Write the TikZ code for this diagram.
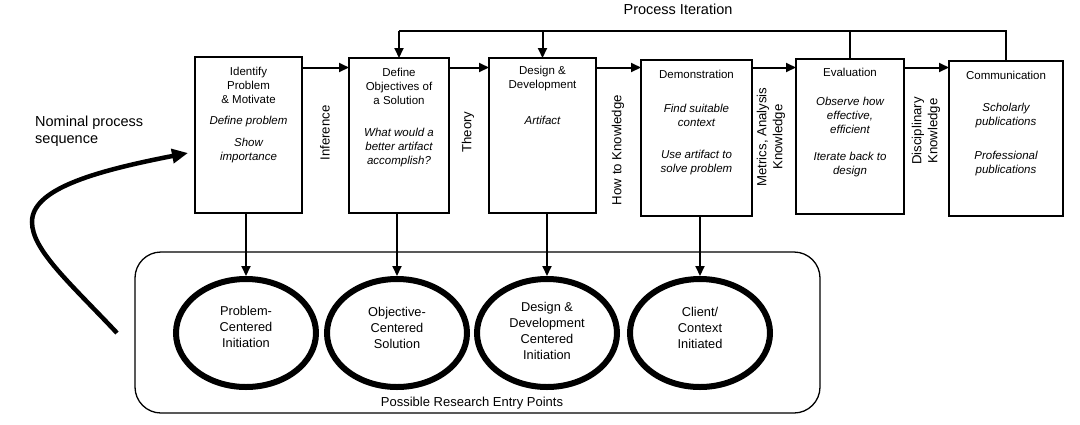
\documentclass[tikz,border=0pt]{standalone}
\usepackage{fontspec}
\setmainfont{Liberation Sans}
\usetikzlibrary{arrows.meta,shapes.geometric}
\begin{document}
\begin{tikzpicture}[x=1pt,y=-1pt,
  box/.style={draw, line width=1.3pt, inner sep=0pt, outer sep=0pt},
  ttl/.style={font=\fontsize{11.5}{14}\selectfont, align=center, inner sep=0pt},
  itl/.style={font=\fontsize{11.5}{14}\selectfont\itshape, align=center, inner sep=0pt},
  side/.style={font=\fontsize{13.2}{16}\selectfont, align=center, rotate=90, inner sep=0pt},
  arr/.style={line width=2pt, -{Triangle[length=10pt,width=9pt]}},
  link/.style={line width=2pt},
  ent/.style={draw, ellipse, line width=6pt, minimum width=140pt, minimum height=108pt, outer sep=3pt, inner sep=0pt},
  etxt/.style={font=\fontsize{12.8}{16}\selectfont, align=center, inner sep=0pt},
  big/.style={font=\fontsize{14.5}{17}\selectfont, inner sep=0pt}
]
\useasboundingbox (0,0) rectangle (1080,424);

% boxes
\node[box, minimum width=107pt, minimum height=156pt] (b1) at (248.5,135) {};
\node[box, minimum width=100pt, minimum height=155pt] (b2) at (399,135.5) {};
\node[box, minimum width=107pt, minimum height=155pt] (b3) at (542.5,135.5) {};
\node[box, minimum width=111pt, minimum height=156pt] (b4) at (696.5,138) {};
\node[box, minimum width=108pt, minimum height=155pt] (b5) at (850,136.5) {};
\node[box, minimum width=114pt, minimum height=155pt] (b6) at (1006,138.5) {};

% box texts
\node[ttl] (b1t) at (248.5,85.5) {Identify\\Problem\\\& Motivate};
\node[itl] (b1a) at (248.5,122) {Define problem};
\node[itl] (b1b) at (248.5,151) {Show\\importance};

\node[ttl] (b2t) at (399,86) {Define\\Objectives of\\a Solution};
\node[itl] (b2a) at (399,148) {What would a\\better artifact\\accomplish?};

\node[ttl] (b3t) at (542.5,79) {Design \&\\Development};
\node[itl] (b3a) at (542.5,120) {Artifact};

\node[ttl] (b4t) at (696.5,74) {Demonstration};
\node[itl] (b4a) at (696.5,115.5) {Find suitable\\context};
\node[itl] (b4b) at (696.5,163) {Use artifact to\\solve problem};

\node[ttl] (b5t) at (850,72) {Evaluation};
\node[itl] (b5a) at (850,115) {Observe how\\effective,\\efficient};
\node[itl] (b5b) at (850,165) {Iterate back to\\design};

\node[ttl] (b6t) at (1006,75) {Communication};
\node[itl] (b6a) at (1006,115.5) {Scholarly\\publications};
\node[itl] (b6b) at (1006,164) {Professional\\publications};

% side labels
\node[side] (l1) at (325,133) {Inference};
\node[side] (l2) at (468,132) {Theory};
\node[side] (l3) at (618,150) {How to Knowledge};
\node[side] (l4) at (771,137) {Metrics, Analysis\\Knowledge};
\node[side] (l5) at (926,131) {Disciplinary\\Knowledge};

% sequence arrows
\coordinate (row) at (0,67.5);
\draw[arr] (b1.east |- row) -- (b2.west |- row);
\draw[arr] (b2.east |- row) -- (b3.west |- row);
\draw[arr] (b3.east |- row) -- (b4.west |- row);
\draw[arr] (b4.east |- row) -- (b5.west |- row);
\draw[arr] (b5.east |- row) -- (b6.west |- row);

% iteration
\node[big] (pi) at (678,9) {Process Iteration};
\coordinate (it) at (0,31);
\draw[link, line join=miter] (b6.north) -- (b6.north |- it) -- (b2.north |- it);
\draw[link] (b5.north) -- (b5.north |- it);
\draw[arr] (b2.north |- it) -- (b2.north);
\draw[arr] (b3.north |- it) -- (b3.north);

% entry zone
\node[draw, line width=1.3pt, rounded corners=26pt, minimum width=685pt, minimum height=161pt, inner sep=0pt] (zone) at (477.5,332.5) {};
\node[font=\fontsize{13}{16}\selectfont, inner sep=0pt] (pre) at (472,403) {Possible Research Entry Points};

\node[ent] (e1) at (246,333) {};
\node[ent] (e2) at (397,333) {};
\node[ent] (e3) at (547,333) {};
\node[ent] (e4) at (700,333) {};
\node[etxt] (t1) at (246,327) {Problem-\\Centered\\Initiation};
\node[etxt] (t2) at (397,327.5) {Objective-\\Centered\\Solution};
\node[etxt] (t3) at (547,331) {Design \&\\Development\\Centered\\Initiation};
\node[etxt] (t4) at (700,328) {Client/\\Context\\Initiated};

\draw[arr] (e1.north |- b1.south) -- (e1.north);
\draw[arr] (e2.north |- b2.south) -- (e2.north);
\draw[arr] (e3.north |- b3.south) -- (e3.north);
\draw[arr] (e4.north |- b4.south) -- (e4.north);

% nominal sequence
\node[big, align=left, anchor=west] (nom) at (35,131.5) {Nominal process\\sequence};
\coordinate (cs) at (117,333);
\coordinate (ce) at (188,153);
\draw[line width=4.5pt, -{Triangle[length=16pt,width=14pt]}] (cs) .. controls (70,283) and (32,250) .. (32,222) .. controls (32,190) and (90,172) .. (ce);
\end{tikzpicture}
\end{document}
